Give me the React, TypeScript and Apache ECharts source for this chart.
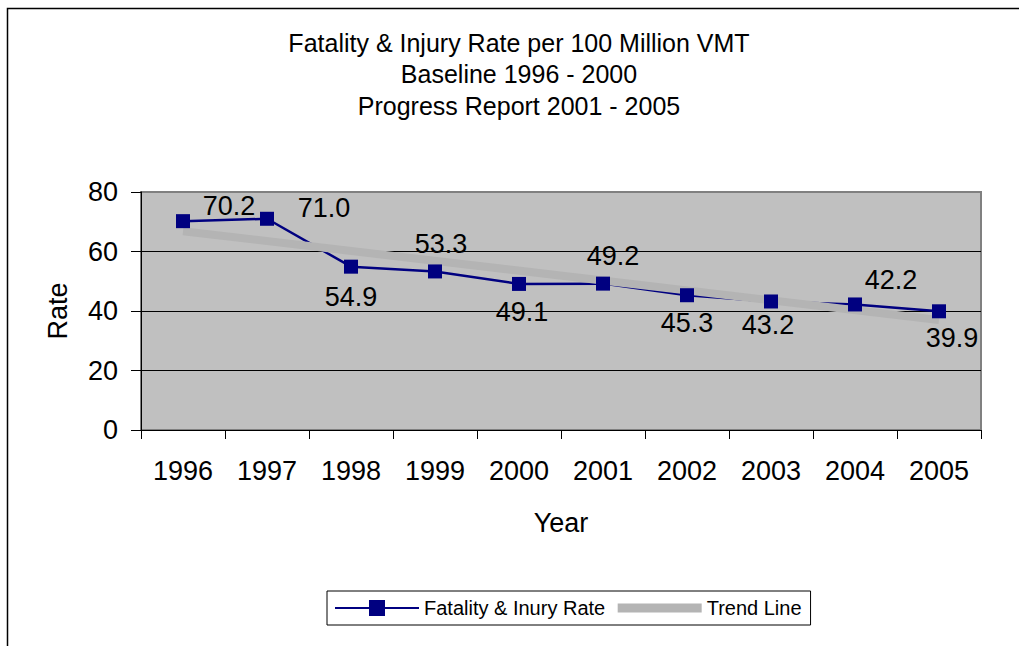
import React, { useEffect, useRef } from "react";
import * as echarts from "echarts";

const titleLines = [
  "Fatality & Injury Rate per 100 Million VMT",
  "Baseline 1996 - 2000",
  "Progress Report 2001 - 2005",
];
const years = ["1996", "1997", "1998", "1999", "2000", "2001", "2002", "2003", "2004", "2005"];
const rates = [70.2, 71.0, 54.9, 53.3, 49.1, 49.2, 45.3, 43.2, 42.2, 39.9];
const trend: (number | null)[] = [66.8, null, null, null, null, null, null, null, null, 37.0];
const seriesNames = ["Fatality & Inury Rate", "Trend Line"];
const yTicks = { min: 0, max: 80, interval: 20 };

// label placement (pixel offsets from each marker), style only
const labelOffsets: [number, number][] = [
  [46, -15], [57, -11], [0, 30], [6, -27], [3, 28],
  [10, -28], [0, 28], [-3, 24], [36, -24], [13, 27],
];

const FONT = "'Liberation Sans', Arial, sans-serif";
const TREND_COLOR = "#b4b4b4";

export default function App() {
  const ref = useRef<HTMLDivElement>(null);
  useEffect(() => {
    if (!ref.current) return;
    const chart = echarts.init(ref.current, undefined, { renderer: "svg" });
    chart.setOption({
      animation: false,
      backgroundColor: "#fff",
      textStyle: { fontFamily: FONT },
      title: {
        text: titleLines.join("\n"),
        left: 519,
        top: 27,
        textAlign: "center",
        padding: 0,
        textStyle: { fontSize: 25, lineHeight: 31.5, fontWeight: "normal", color: "#000", fontFamily: FONT },
      },
      graphic: [
        {
          type: "rect",
          shape: { x: 7.5, y: 8.5, width: 1100, height: 700 },
          style: { fill: "none", stroke: "#000", lineWidth: 1.5 },
          silent: true,
        },
      ],
      legend: {
        left: 327,
        top: 591,
        orient: "horizontal",
        padding: [7, 9, 7, 7],
        itemGap: 8,
        itemWidth: 84,
        itemHeight: 20,
        borderColor: "#000",
        borderWidth: 1,
        backgroundColor: "#fff",
        textStyle: { fontSize: 20, color: "#000", fontFamily: FONT },
        data: [
          { name: seriesNames[0], lineStyle: { width: 2, color: "#000080" } },
          {
            name: seriesNames[1],
            lineStyle: { width: 9, color: TREND_COLOR },
            itemStyle: { opacity: 0 },
          },
        ],
      },
      grid: {
        left: 141,
        top: 192,
        width: 840,
        height: 238,
        show: true,
        backgroundColor: "#c0c0c0",
        borderColor: "#808080",
        borderWidth: 2,
        containLabel: false,
      },
      xAxis: {
        type: "category",
        data: years,
        boundaryGap: true,
        name: "Year",
        nameLocation: "middle",
        nameGap: 79,
        nameTextStyle: { fontSize: 27, color: "#000", fontFamily: FONT },
        axisLine: { show: true, lineStyle: { color: "#000", width: 1 } },
        axisTick: { show: true, alignWithLabel: false, length: 9, lineStyle: { color: "#000" } },
        axisLabel: { fontSize: 27, color: "#000", margin: 27, fontFamily: FONT },
        splitLine: { show: false },
      },
      yAxis: {
        type: "value",
        min: yTicks.min,
        max: yTicks.max,
        interval: yTicks.interval,
        name: "Rate",
        nameLocation: "middle",
        nameGap: 70,
        nameTextStyle: { fontSize: 27, color: "#000", fontFamily: FONT },
        axisLine: { show: true, lineStyle: { color: "#000", width: 1 } },
        axisTick: { show: true, length: 10, lineStyle: { color: "#000" } },
        axisLabel: { fontSize: 27, color: "#000", margin: 23, fontFamily: FONT },
        splitLine: {
          show: true,
          lineStyle: { color: ["#000", "#000", "#000", "#000", "#808080"], width: 1 },
        },
      },
      series: [
        {
          name: seriesNames[0],
          type: "line",
          data: rates.map((v, i) => ({
            value: v,
            label: { offset: labelOffsets[i] },
          })),
          symbol: "rect",
          symbolSize: 14,
          lineStyle: { color: "#000080", width: 2.5 },
          itemStyle: { color: "#000080" },
          label: {
            show: true,
            position: "inside",
            color: "#000",
            fontSize: 27,
            fontFamily: FONT,
            textBorderWidth: 0,
            formatter: (p: any) => Number(p.value).toFixed(1),
          },
        },
        {
          name: seriesNames[1],
          type: "line",
          data: trend,
          connectNulls: true,
          symbol: "none",
          lineStyle: { color: TREND_COLOR, width: 8 },
          itemStyle: { color: TREND_COLOR },
        },
      ],
    });
    return () => chart.dispose();
  }, []);
  return (
    <div
      ref={ref}
      style={{ position: "absolute", left: 0, top: 0, width: 1019, height: 646 }}
    />
  );
}
